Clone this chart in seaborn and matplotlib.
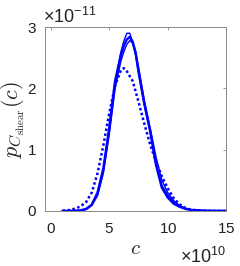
#!/usr/bin/env python3

import matplotlib
matplotlib.use("Agg")

import matplotlib.pyplot as plt
import matplotlib.ticker as mticker
import pandas as pd
import seaborn as sns

# c values in units of 1e10, densities in units of 1e-11
c_grid = [1.0, 1.5, 2.0, 2.5, 3.0, 3.5, 4.0, 4.5, 5.0, 5.5, 6.0, 6.25, 6.5,
          6.75, 7.0, 7.25, 7.5, 8.0, 8.5, 9.0, 9.5, 10.0, 10.5, 11.0, 11.5,
          12.0, 13.0, 14.0, 15.0]

p_solid_a = [0.0, 0.0, 0.002, 0.007, 0.03, 0.10, 0.28, 0.68, 1.32, 2.12, 2.60,
             2.78, 2.90, 2.90, 2.75, 2.55, 2.25, 1.72, 1.30, 0.78, 0.42, 0.26,
             0.15, 0.08, 0.04, 0.018, 0.005, 0.001, 0.0]
p_solid_b = [0.0, 0.0, 0.002, 0.008, 0.03, 0.10, 0.30, 0.70, 1.36, 2.12, 2.55,
             2.70, 2.80, 2.84, 2.76, 2.58, 2.28, 1.75, 1.30, 0.75, 0.38, 0.22,
             0.12, 0.07, 0.035, 0.015, 0.004, 0.001, 0.0]
p_solid_c = [0.0, 0.0, 0.001, 0.006, 0.025, 0.09, 0.25, 0.62, 1.25, 2.00, 2.45,
             2.60, 2.72, 2.78, 2.74, 2.60, 2.35, 1.80, 1.35, 0.88, 0.50, 0.30,
             0.17, 0.09, 0.045, 0.02, 0.006, 0.001, 0.0]
p_dotted = [0.005, 0.012, 0.035, 0.07, 0.14, 0.30, 0.62, 1.08, 1.60, 2.05,
            2.30, 2.33, 2.28, 2.20, 2.12, 1.95, 1.78, 1.42, 1.08, 0.80, 0.56,
            0.37, 0.21, 0.11, 0.05, 0.02, 0.004, 0.0, 0.0]

C_EXP = 10
P_EXP = -11


def main():
    sns.set_style("white")
    plt.rcParams["font.family"] = ["Liberation Sans", "DejaVu Sans"]
    plt.rcParams["mathtext.fontset"] = "cm"
    plt.rcParams["mathtext.rm"] = "Liberation Sans"
    plt.rcParams["mathtext.it"] = "Liberation Sans:italic"

    c = pd.Series(c_grid) * 10.0 ** C_EXP
    df = pd.DataFrame({
        "c": c,
        "a": pd.Series(p_solid_a) * 10.0 ** P_EXP,
        "b": pd.Series(p_solid_b) * 10.0 ** P_EXP,
        "cc": pd.Series(p_solid_c) * 10.0 ** P_EXP,
        "d": pd.Series(p_dotted) * 10.0 ** P_EXP,
    })

    fig = plt.figure(figsize=(2.4, 2.66), dpi=100)
    ax = fig.add_axes([0.1875, 0.207, 0.755, 0.691])

    blue = (0, 0, 1)
    sns.lineplot(data=df, x="c", y="a", ax=ax, color=blue, lw=1.0)
    sns.lineplot(data=df, x="c", y="b", ax=ax, color=blue, lw=1.8)
    sns.lineplot(data=df, x="c", y="cc", ax=ax, color=blue, lw=1.0)
    sns.lineplot(data=df, x="c", y="d", ax=ax, color=blue, lw=1.8,
                 linestyle=(0, (1, 1)))

    ax.set_xlim(-0.5 * 10.0 ** C_EXP, 15 * 10.0 ** C_EXP)
    ax.set_ylim(0, 3 * 10.0 ** P_EXP)
    ax.set_xticks([k * 10.0 ** C_EXP for k in (0, 5, 10, 15)])
    ax.set_yticks([k * 10.0 ** P_EXP for k in (0, 1, 2, 3)])

    for axis, exp in ((ax.xaxis, C_EXP), (ax.yaxis, P_EXP)):
        fmt = mticker.ScalarFormatter(useMathText=True)
        fmt.set_powerlimits((exp, exp))
        axis.set_major_formatter(fmt)
        off = axis.get_offset_text()
        off.set_fontsize(13)
        off.set_math_fontfamily("custom")
        off.set_color("#222222")
    # push the x multiplier a little further below the tick labels
    ax.xaxis.OFFSETTEXTPAD = 7.5

    ax.tick_params(direction="in", length=2.5, width=0.6, colors="#888888",
                   labelcolor="#222222", labelsize=11, top=True, right=True)
    ax.tick_params(axis="x", pad=8)
    ax.tick_params(axis="y", pad=6)
    for spine in ax.spines.values():
        spine.set_color("#888888")
        spine.set_linewidth(0.7)

    ax.set_xlabel("$c$", fontsize=15, labelpad=2)
    ax.set_ylabel(r"$p_{C_{\rm shear}}(c)$", fontsize=16, labelpad=0)
    ax.yaxis.get_offset_text().set_x(-0.01)

    fig.savefig("out.png", dpi=100)


if __name__ == '__main__':
    main()
